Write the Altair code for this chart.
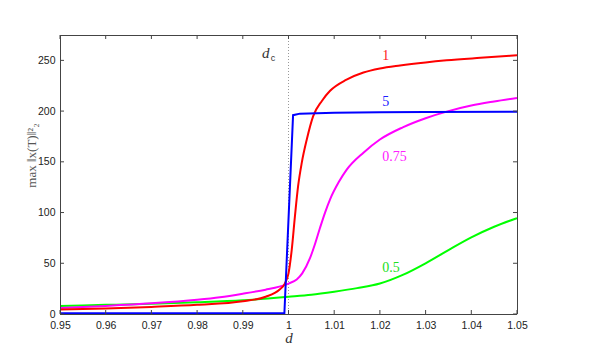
import altair as alt
import pandas as pd

# ---- data ----
red_d = [0.95, 0.96, 0.97, 0.98, 0.99, 0.995, 0.998, 0.9992, 1.0, 1.0007, 1.0014, 1.0021,
         1.0029, 1.004, 1.0054, 1.0073, 1.0091, 1.0127, 1.0164, 1.02, 1.0244,
         1.03, 1.0346, 1.042, 1.05]
red_v = [4.5, 5.5, 7, 9, 12.5, 17, 24, 30, 40, 63, 96, 126,
         149, 172, 195, 210, 220, 231, 238, 242, 245,
         248, 250, 252.5, 255]

blue_d = [0.95, 0.9991, 1.001, 1.0025, 1.01, 1.02, 1.03, 1.05]
blue_v = [0.7, 0.7, 196, 197.5, 198.3, 198.8, 199, 199.3]

mag_d = [0.95, 0.96, 0.97, 0.98, 0.985, 0.99, 0.995, 0.998, 1.0, 1.0018, 1.003, 1.0047,
         1.0058, 1.0069, 1.008, 1.0091, 1.011, 1.0127, 1.0164, 1.02, 1.025,
         1.03, 1.035, 1.04, 1.045, 1.05]
mag_v = [6, 8, 10.5, 14, 16.5, 20, 24, 27, 30, 34, 40, 55,
         69, 85, 100, 113, 130, 142, 159, 172, 184,
         193, 200, 205.5, 209.5, 213]

green_d = [0.95, 0.96, 0.97, 0.98, 0.99, 1.0, 1.005, 1.01, 1.015, 1.02, 1.025, 1.03,
           1.035, 1.04, 1.045, 1.05]
green_v = [8, 9, 10, 11.5, 13.5, 17, 19, 22, 25.5, 30, 38.5, 50,
           63, 75.5, 86, 94.5]

label_text = ["1", "5", "0.75", "0.5"]
label_d = [1.0205, 1.0205, 1.0205, 1.0205]
label_v = [254, 209, 155, 45]
label_color = ["#ff2020", "#2020ff", "#ff20ff", "#20e020"]

x_ticks = [0.95, 0.96, 0.97, 0.98, 0.99, 1.0, 1.01, 1.02, 1.03, 1.04, 1.05]
y_ticks = [0, 50, 100, 150, 200, 250]
d_c = 1.0

W, H = 457, 279
xs = alt.Scale(domain=[0.95, 1.05], nice=False, zero=False)
ys = alt.Scale(domain=[0, 275], nice=False, zero=True)
FRAME = "#444"


def line(d, v, color, interp="monotone"):
    df = pd.DataFrame({"d": d, "v": v})
    return alt.Chart(df).mark_line(color=color, strokeWidth=2, clip=True,
                                   interpolate=interp).encode(
        x=alt.X("d:Q", scale=xs), y=alt.Y("v:Q", scale=ys))


base_axes = alt.Chart(pd.DataFrame({"d": [0.95], "v": [0]})).mark_point(opacity=0).encode(
    x=alt.X("d:Q", scale=xs, title="d",
            axis=alt.Axis(values=x_ticks, format="~g", ticks=False, domain=False,
                          grid=False, labelFlush=False,
                          labelFont="Liberation Sans", labelFontSize=10.5, labelColor="#222",
                          labelPadding=6, titleFont="Liberation Serif", titleFontStyle="italic",
                          titleFontWeight="normal", titleFontSize=15, titlePadding=0,
                          titleColor="#333")),
    y=alt.Y("v:Q", scale=ys, title="max ‖x(T)‖²₂",
            axis=alt.Axis(values=y_ticks, ticks=False, domain=False,
                          grid=False, labelFlush=False,
                          labelFont="Liberation Sans", labelFontSize=10.5, labelColor="#222",
                          labelPadding=5, titleFont="Liberation Serif", titleFontWeight="normal",
                          titleFontSize=13, titleColor="#555",
                          titleX=-22, titleY=120, titleAngle=-90, titleAlign="center",
                          titleBaseline="bottom")),
)

dc_rule = alt.Chart(pd.DataFrame({"d": [d_c]})).mark_rule(
    color="#999", strokeDash=[1, 2], strokeWidth=1).encode(x=alt.X("d:Q", scale=xs))

# frame of the plot area
one = pd.DataFrame({"k": [0]})
frame_l = alt.Chart(one).mark_rule(color=FRAME, strokeWidth=1).encode(
    x=alt.value(0.5), y=alt.value(0), y2=alt.value(H))
frame_r = alt.Chart(one).mark_rule(color=FRAME, strokeWidth=1).encode(
    x=alt.value(W + 0.5), y=alt.value(0), y2=alt.value(H))
frame_t = alt.Chart(one).mark_rule(color=FRAME, strokeWidth=1).encode(
    x=alt.value(0), x2=alt.value(W), y=alt.value(0.5))
frame_b = alt.Chart(one).mark_rule(color=FRAME, strokeWidth=1).encode(
    x=alt.value(0), x2=alt.value(W), y=alt.value(H + 0.5))

xt = pd.DataFrame({"d": x_ticks})
yt = pd.DataFrame({"v": y_ticks})
tick_b = alt.Chart(xt).mark_rule(color=FRAME).encode(
    x=alt.X("d:Q", scale=xs), y=alt.value(H - 4), y2=alt.value(H))
tick_t = alt.Chart(xt).mark_rule(color=FRAME).encode(
    x=alt.X("d:Q", scale=xs), y=alt.value(0), y2=alt.value(4))
tick_l = alt.Chart(yt).mark_rule(color=FRAME).encode(
    y=alt.Y("v:Q", scale=ys), x=alt.value(0), x2=alt.value(4))
tick_r = alt.Chart(yt).mark_rule(color=FRAME).encode(
    y=alt.Y("v:Q", scale=ys), x=alt.value(W - 4), x2=alt.value(W))

labels = alt.Chart(pd.DataFrame({"t": label_text, "d": label_d, "v": label_v,
                                 "c": label_color})).mark_text(
    font="Liberation Serif", fontSize=14, align="left", baseline="middle").encode(
    x=alt.X("d:Q", scale=xs), y=alt.Y("v:Q", scale=ys), text="t:N",
    color=alt.Color("c:N", scale=None))

dc_d = alt.Chart(pd.DataFrame({"t": ["d"], "d": [0.9942], "v": [257]})).mark_text(
    font="Liberation Serif", fontStyle="italic", fontSize=15, align="left",
    baseline="middle", color="#333").encode(
    x=alt.X("d:Q", scale=xs), y=alt.Y("v:Q", scale=ys), text="t:N")
dc_c = alt.Chart(pd.DataFrame({"t": ["c"], "d": [0.9961], "v": [252]})).mark_text(
    font="Liberation Sans", fontSize=9, align="left",
    baseline="middle", color="#333").encode(
    x=alt.X("d:Q", scale=xs), y=alt.Y("v:Q", scale=ys), text="t:N")

chart = alt.layer(
    base_axes, dc_rule,
    line(green_d, green_v, "#00ff00"),
    line(mag_d, mag_v, "#ff00ff"),
    line(red_d, red_v, "#ff0000"),
    line(blue_d, blue_v, "#0000ff", "linear"),
    frame_l, frame_r, frame_t, frame_b,
    tick_b, tick_t, tick_l, tick_r,
    labels, dc_d, dc_c,
).properties(
    width=W, height=H,
    autosize=alt.AutoSizeParams(type="none"),
    padding={"left": 52, "top": 27, "right": 64, "bottom": 40},
).configure_view(strokeWidth=0).configure(background="white")

chart.save("out.html", embed_options={"renderer": "svg", "actions": False})
